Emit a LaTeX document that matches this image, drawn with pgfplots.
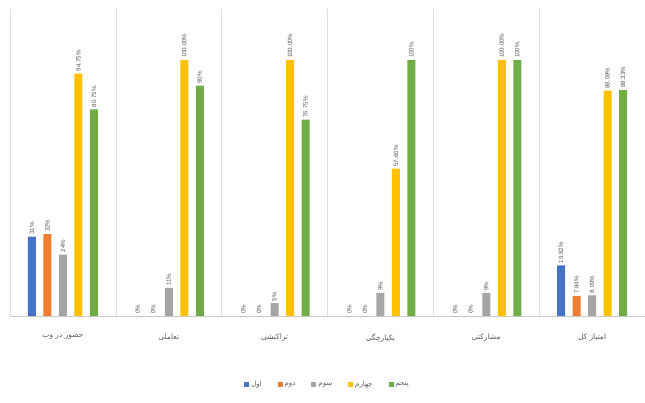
\documentclass[border=0pt]{standalone}
\usepackage{pgfplots}
\pgfplotsset{compat=1.18}
\usepackage{fontspec}
\setmainfont{Liberation Sans}
\newfontfamily\arabicfont[Script=Arabic]{DejaVu Sans}
\TeXXeTstate=1
\definecolor{c1}{HTML}{4472C4}
\definecolor{c2}{HTML}{ED7D31}
\definecolor{c3}{HTML}{A5A5A5}
\definecolor{c4}{HTML}{FFC000}
\definecolor{c5}{HTML}{70AD47}
\definecolor{txt}{HTML}{595959}
\begin{document}
\begin{tikzpicture}
\path[use as bounding box] (-10bp,-87bp) rectangle (635bp,316bp);
\begin{axis}[
  scale only axis, width=635bp, height=307bp,
  xmin=-0.5, xmax=5.5, ymin=0, ymax=120,
  ybar=7.5bp, bar width=8bp,
  axis y line=none,
  axis x line*=bottom,
  x axis line style={draw=gray!40, -},
  xtick={0,...,5},
  xticklabels={{\arabicfont\beginR حضور در وب\endR},{\arabicfont\beginR تعاملی\endR},{\arabicfont\beginR تراکنشی\endR},{\arabicfont\beginR یکپارچگی\endR},{\arabicfont\beginR مشارکتی\endR},{\arabicfont\beginR امتیاز کل\endR}},
  xticklabel style={font=\fontsize{7.5}{9}\selectfont, text=txt, yshift=-10bp},
  major x tick style={draw=none},
  minor xtick={-0.5,0.5,...,5.5},
  minor x tick style={draw=none},
  minor x grid style={draw=gray!25},
  xminorgrids=true,
  point meta=explicit symbolic,
  nodes near coords,
  every node near coord/.append style={rotate=90, anchor=west, font=\fontsize{6.2}{7}\selectfont, text=txt, inner sep=2bp},
  legend style={at={(0.5,-0.2)}, anchor=north, draw=none, legend columns=5,
    font=\fontsize{7}{8}\selectfont, text=txt,
    /tikz/every even column/.append style={column sep=14bp}},
  legend image code/.code={\fill[#1] (0bp,-2.5bp) rectangle (5bp,2.5bp);},
]
\addplot[fill=c1, draw=none] coordinates {(0,31) [31\%] (1,0) [0\%] (2,0) [0\%] (3,0) [0\%] (4,0) [0\%] (5,19.82) [19.82\%]};
\addplot[fill=c2, draw=none] coordinates {(0,32) [32\%] (1,0) [0\%] (2,0) [0\%] (3,0) [0\%] (4,0) [0\%] (5,7.84) [7.84\%]};
\addplot[fill=c3, draw=none] coordinates {(0,24) [24\%] (1,11) [11\%] (2,5) [5\%] (3,9) [9\%] (4,9) [9\%] (5,8.09) [8.09\%]};
\addplot[fill=c4, draw=none] coordinates {(0,94.75) [94.75\%] (1,100) [100.00\%] (2,100) [100.00\%] (3,57.6) [57.60\%] (4,100) [100.00\%] (5,88.08) [88.08\%]};
\addplot[fill=c5, draw=none] coordinates {(0,80.75) [80.75\%] (1,90) [90\%] (2,76.75) [76.75\%] (3,100) [100\%] (4,100) [100\%] (5,88.33) [88.33\%]};
\legend{{\arabicfont\beginR اول\endR},{\arabicfont\beginR دوم\endR},{\arabicfont\beginR سوم\endR},{\arabicfont\beginR چهارم\endR},{\arabicfont\beginR پنجم\endR}}
\end{axis}
\end{tikzpicture}
\end{document}
